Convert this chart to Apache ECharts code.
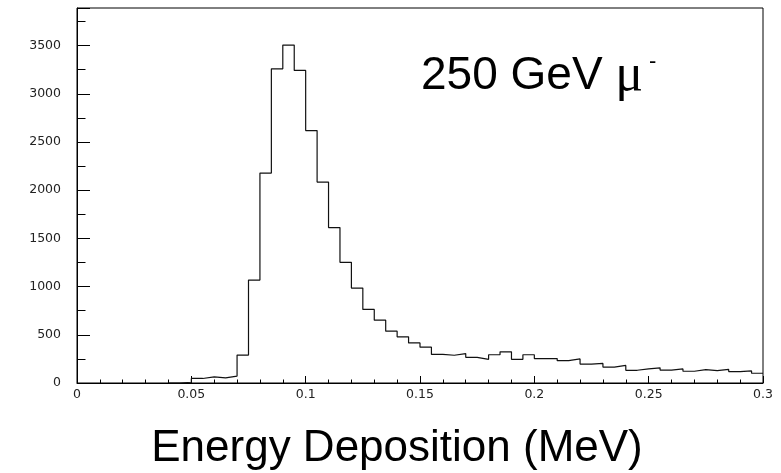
<!DOCTYPE html>
<html>
<head>
<meta charset="utf-8">
<script src="https://cdn.jsdelivr.net/npm/echarts@6/dist/echarts.min.js"></script>
<style>
html,body{margin:0;padding:0;background:#fff;}
#chart{width:781px;height:473px;}
</style>
</head>
<body>
<div id="chart"></div>
<script>
// Bin left edges (MeV), bin width 0.005
var binStarts = [0.040, 0.045, 0.050, 0.055, 0.060, 0.065, 0.070, 0.075, 0.080, 0.085,
                 0.090, 0.095, 0.100, 0.105, 0.110, 0.115, 0.120, 0.125, 0.130, 0.135,
                 0.140, 0.145, 0.150, 0.155, 0.160, 0.165, 0.170, 0.175, 0.180, 0.185,
                 0.190, 0.195, 0.200, 0.205, 0.210, 0.215, 0.220, 0.225, 0.230, 0.235,
                 0.240, 0.245, 0.250, 0.255, 0.260, 0.265, 0.270, 0.275, 0.280, 0.285,
                 0.290, 0.295];
var lastBinEnd = 0.3;
// Counts per bin
var counts = [0, 8, 47, 64, 54, 72, 290, 1068, 2178, 3259,
              3505, 3242, 2618, 2084, 1612, 1252, 985, 763, 652, 538,
              479, 416, 372, 296, 288, 305, 266, 246, 293, 323,
              246, 293, 253, 253, 232, 250, 196, 203, 165, 182,
              132, 147, 157, 134, 146, 122, 139, 129, 141, 118,
              125, 101];
var xTicks = ['0', '0.05', '0.1', '0.15', '0.2', '0.25', '0.3'];
var yTicks = ['0', '500', '1000', '1500', '2000', '2500', '3000', '3500'];
var titleText = '250 GeV ';
var xAxisTitle = 'Energy Deposition (MeV)';

var stepData = binStarts.map(function (x, i) { return [x, counts[i]]; });
stepData.push([lastBinEnd, counts[counts.length - 1]]);

var chart = echarts.init(document.getElementById('chart'), null, {renderer: 'canvas'});
var tickFont = {fontFamily: 'DejaVu Sans', fontSize: 12.5, color: '#222'};
chart.setOption({
  animation: false,
  backgroundColor: '#fff',
  grid: {left: 77, right: 18, top: 8, bottom: 90, show: true, borderColor: '#000', borderWidth: 1, containLabel: false, outerBoundsMode: 'none'},
  xAxis: {
    type: 'value', min: 0, max: 0.3, interval: 0.05,
    axisLine: {show: true, lineStyle: {color: '#000', width: 1}},
    axisTick: {show: true, inside: true, length: 7, lineStyle: {color: '#000'}},
    minorTick: {show: true, splitNumber: 5, length: 3.5, lineStyle: {color: '#000'}},
    splitLine: {show: false},
    axisLabel: Object.assign({margin: 5, formatter: function (v) {
      var idx = Math.round(v / 0.05);
      return xTicks[idx] !== undefined ? xTicks[idx] : '';
    }}, tickFont)
  },
  yAxis: {
    type: 'value', min: 0, max: 3890, interval: 500,
    axisLine: {show: true, lineStyle: {color: '#000', width: 1}},
    axisTick: {show: true, inside: true, length: 13, lineStyle: {color: '#000'}},
    minorTick: {show: true, splitNumber: 2, length: 8.5, lineStyle: {color: '#000'}},
    splitLine: {show: false},
    axisLabel: Object.assign({margin: 16, showMaxLabel: false, formatter: function (v) {
      var idx = Math.round(v / 500);
      return (v % 500 === 0 && yTicks[idx] !== undefined) ? yTicks[idx] : '';
    }}, tickFont)
  },
  series: [{
    type: 'line', step: 'end', data: stepData, showSymbol: false, symbol: 'none',
    lineStyle: {color: '#111', width: 1.2}, silent: true
  }],
  graphic: [
    {
      type: 'text', left: 421, top: 50,
      style: {
        rich: {
          a: {fontFamily: 'Liberation Sans', fontSize: 46, fill: '#000'},
          mu: {fontFamily: 'Liberation Serif', fontSize: 52, fill: '#000'}
        },
        text: '{a|' + titleText + '}{mu|μ}'
      }
    },
    {
      type: 'text', x: 649, y: 51,
      style: {text: '-', fontFamily: 'Liberation Sans', fontSize: 22, fill: '#000'}
    },
    {
      type: 'text', x: 397, y: 449,
      style: {text: xAxisTitle, fontFamily: 'Liberation Sans', fontSize: 44, fill: '#000', textAlign: 'center', textVerticalAlign: 'middle', align: 'center', verticalAlign: 'middle'}
    }
  ]
});
</script>
</body>
</html>
